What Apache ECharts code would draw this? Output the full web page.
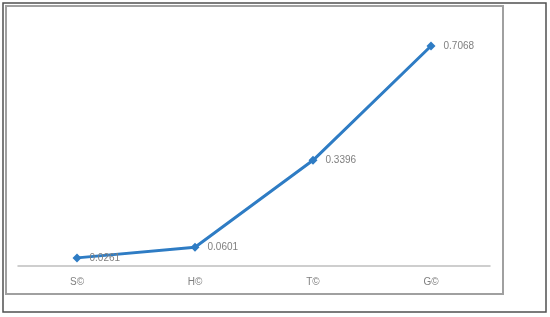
<!DOCTYPE html>
<html>
<head>
<meta charset="utf-8">
<script src="https://cdn.jsdelivr.net/npm/echarts@6/dist/echarts.min.js"></script>
<style>
  html, body { margin: 0; padding: 0; background: #fff; }
  #chart { width: 550px; height: 317px; }
</style>
</head>
<body>
<div id="chart"></div>
<script>
// 数据
var categories = ['S©', 'H©', 'T©', 'G©'];
var values = [0.0261, 0.0601, 0.3396, 0.7068];

var myChart = echarts.init(document.getElementById('chart'));

var option = {
  animation: false,
  // 外框
  graphic: [
    {
      type: 'rect',
      shape: { x: 3, y: 3, width: 543, height: 309 },
      style: { fill: 'none', stroke: '#505050', lineWidth: 1.5 }
    },
    {
      type: 'rect',
      shape: { x: 6, y: 6, width: 497, height: 288 },
      style: { fill: 'none', stroke: '#a0a0a0', lineWidth: 2 }
    }
  ],
  grid: { left: 18, right: 60, top: 17, bottom: 51 },
  xAxis: {
    type: 'category',
    data: categories,
    boundaryGap: true,
    axisLine: { lineStyle: { color: '#bfbfbf', width: 1.5 } },
    axisTick: { show: false },
    axisLabel: { color: '#7f7f7f', fontSize: 10, margin: 11, fontFamily: 'Liberation Sans' }
  },
  yAxis: {
    type: 'value',
    min: 0,
    max: 0.8,
    show: false,
    splitLine: { show: false }
  },
  series: [{
    type: 'line',
    data: values,
    symbol: 'diamond',
    symbolSize: 9,
    lineStyle: { color: '#2e7cc4', width: 3 },
    itemStyle: { color: '#2e7cc4' },
    label: {
      show: true,
      position: 'right',
      distance: 8,
      color: '#7f7f7f',
      fontSize: 10,
      fontFamily: 'Liberation Sans'
    }
  }]
};
myChart.setOption(option);
</script>
</body>
</html>
